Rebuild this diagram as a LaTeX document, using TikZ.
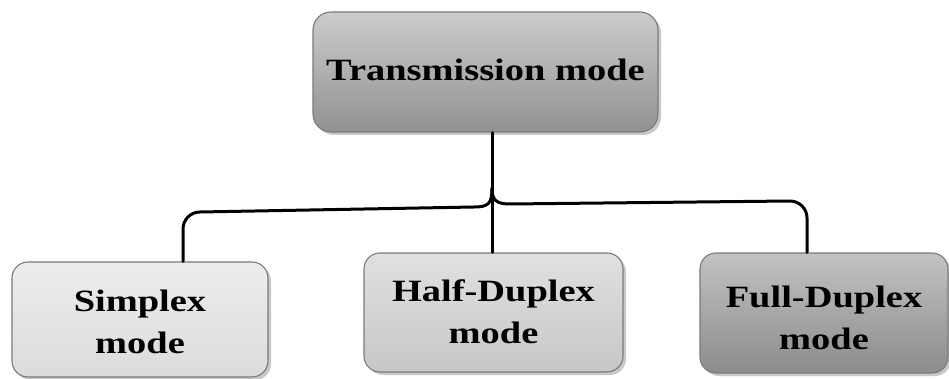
\documentclass[tikz,border=0pt]{standalone}
\usepackage{fontspec}
\usepackage{graphicx}
\setmainfont{Liberation Serif}[BoldFont={Liberation Serif Bold}]
\usetikzlibrary{shadows,calc}

% slightly widened bold label, one or more centred lines
\newcommand{\boxlabel}[1]{\scalebox{1.24}[1]{\begin{tabular}{@{}c@{}}#1\end{tabular}}}

\definecolor{edgegray}{HTML}{7A7A7A}

\tikzset{
  modebox/.style={
    rounded corners=18pt, draw=edgegray, line width=1.1pt,
    inner sep=0pt, align=center,
    font=\fontsize{31}{42}\selectfont\bfseries,
    drop shadow={shadow xshift=3pt, shadow yshift=-3pt, opacity=0.35, fill=black!60}
  },
  boxtext/.style={inner sep=0pt, align=center,
    font=\fontsize{31}{42}\selectfont\bfseries},
  conn/.style={line width=3pt, black, line cap=round, line join=round}
}

\begin{document}
\begin{tikzpicture}[x=1pt, y=-1pt]
  \fill[white] (0,0) rectangle (949,379);
  \useasboundingbox (0,0) rectangle (949,379);

  % root of the tree
  \node[modebox, minimum width=345pt, minimum height=120pt,
        top color=black!20, bottom color=black!43]
        (root) at (485.5,72) {\boxlabel{Transmission mode}};

  % the three kinds of transmission
  \node[modebox, minimum width=256pt, minimum height=115pt,
        top color=black!7, bottom color=black!14, rounded corners=16pt,
        label={[boxtext, yshift=-5pt]center:\boxlabel{Simplex\\mode}}]
        (simplex) at (140,319.5) {};
  \node[modebox, minimum width=259pt, minimum height=119pt,
        top color=black!12, bottom color=black!22, rounded corners=16pt,
        label={[boxtext, yshift=-2pt]center:\boxlabel{Half-Duplex\\mode}}]
        (half) at (493.5,312.5) {};
  \node[modebox, minimum width=248pt, minimum height=120pt,
        top color=black!24, bottom color=black!45, rounded corners=16pt,
        label={[boxtext, yshift=-7pt]center:\boxlabel{Full-Duplex\\mode}}]
        (full) at (824,313) {};

  % brace-like connector
  \coordinate (fork) at (492,188);
  \draw[conn] (root.south -| fork) -- (half.north -| fork);
  \draw[conn] (fork) .. controls (492,204) and (488,207) .. (474,207)
     -- (200,212) to[out=180,in=90] (183,229)
     -- ($(simplex.north)+(43,0)$);
  \draw[conn] (fork) .. controls (492,200) and (496,204) .. (510,204)
     -- (790,201) to[out=0,in=90] (807,218)
     -- ($(full.north)+(-17,0)$);
\end{tikzpicture}
\end{document}
